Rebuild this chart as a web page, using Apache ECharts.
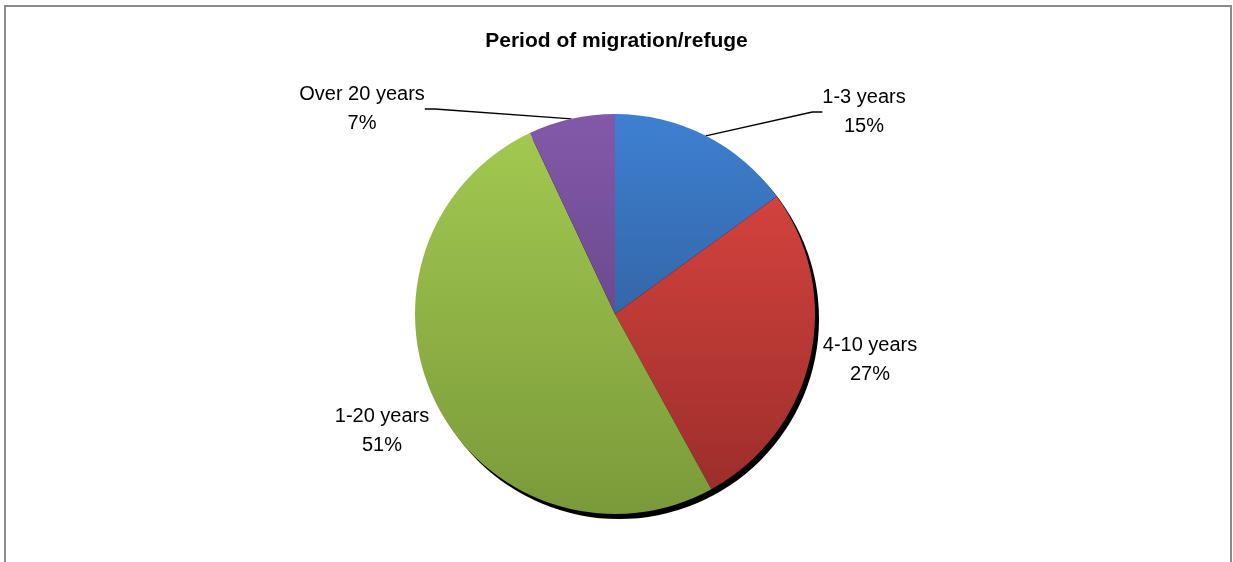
<!DOCTYPE html>
<html lang="en">
<head>
  <meta charset="UTF-8" />
  <title>Period of migration/refuge</title>
  <script src="https://cdn.jsdelivr.net/npm/echarts@6/dist/echarts.min.js"></script>
  <style>
    body {
      margin: 0;
      background: #fff;
      overflow: hidden;
    }
    #main {
      width: 1233px;
      height: 562px;
    }
  </style>
</head>
<body>
  <div id="main"></div>
  <script>
    const chart = echarts.init(document.getElementById('main'));

    const categories = ['1-3 years', '4-10 years', '1-20 years', 'Over 20 years'];
    const shares = [15, 27, 51, 7];
    // top / bottom colour of each slice gradient
    const topColors = ['#3e80d1', '#d3423e', '#a3c850', '#8259aa'];
    const bottomColors = ['#3466a9', '#9d2e2b', '#7a9a3a', '#6c4a8e'];
    // label block centres
    const labelPos = [[864, 112], [870, 360], [382, 431], [362, 109]];

    const center = [615, 314];
    const radius = 200;

    const slices = categories.map((name, i) => ({
      name: name,
      value: shares[i],
      itemStyle: {
        color: new echarts.graphic.LinearGradient(0, 0, 0, 1, [
          { offset: 0, color: topColors[i] },
          { offset: 1, color: bottomColors[i] }
        ])
      },
      labelLine: { show: i === 0 || i === 3 }
    }));

    const option = {
      backgroundColor: '#fff',
      animation: false,
      title: {
        text: 'Period of migration/refuge',
        left: 'center',
        top: 26,
        textStyle: {
          fontFamily: 'Liberation Sans, Arial, sans-serif',
          fontSize: 21,
          fontWeight: 'bold',
          color: '#000'
        }
      },
      graphic: [
        {
          type: 'rect',
          shape: { x: 5, y: 6, width: 1226, height: 620 },
          style: { fill: 'none', stroke: '#8a8a8a', lineWidth: 2 },
          silent: true
        }
      ],
      series: [
        {
          // dark rim under the pie
          type: 'pie',
          center: [center[0] + 4, center[1] + 5],
          radius: radius,
          silent: true,
          z: 1,
          label: { show: false },
          labelLine: { show: false },
          itemStyle: { color: '#000' },
          data: [{ name: 'rim', value: 1 }]
        },
        {
          type: 'pie',
          center: center,
          radius: radius,
          startAngle: 90,
          clockwise: true,
          z: 2,
          data: slices,
          label: {
            show: true,
            formatter: '{b}\n{c}%',
            fontFamily: 'Liberation Sans, Arial, sans-serif',
            fontSize: 20,
            lineHeight: 29,
            color: '#000',
            align: 'center'
          },
          labelLine: {
            show: true,
            length: 10,
            length2: 10,
            lineStyle: { color: '#000', width: 1.3 }
          },
          labelLayout: function (params) {
            const p = labelPos[params.dataIndex];
            return { x: p[0], y: p[1], align: 'center', verticalAlign: 'middle' };
          },
          emphasis: { disabled: true }
        }
      ]
    };

    chart.setOption(option);
    window.addEventListener('resize', () => {
      chart.resize();
    });
  </script>
</body>
</html>
